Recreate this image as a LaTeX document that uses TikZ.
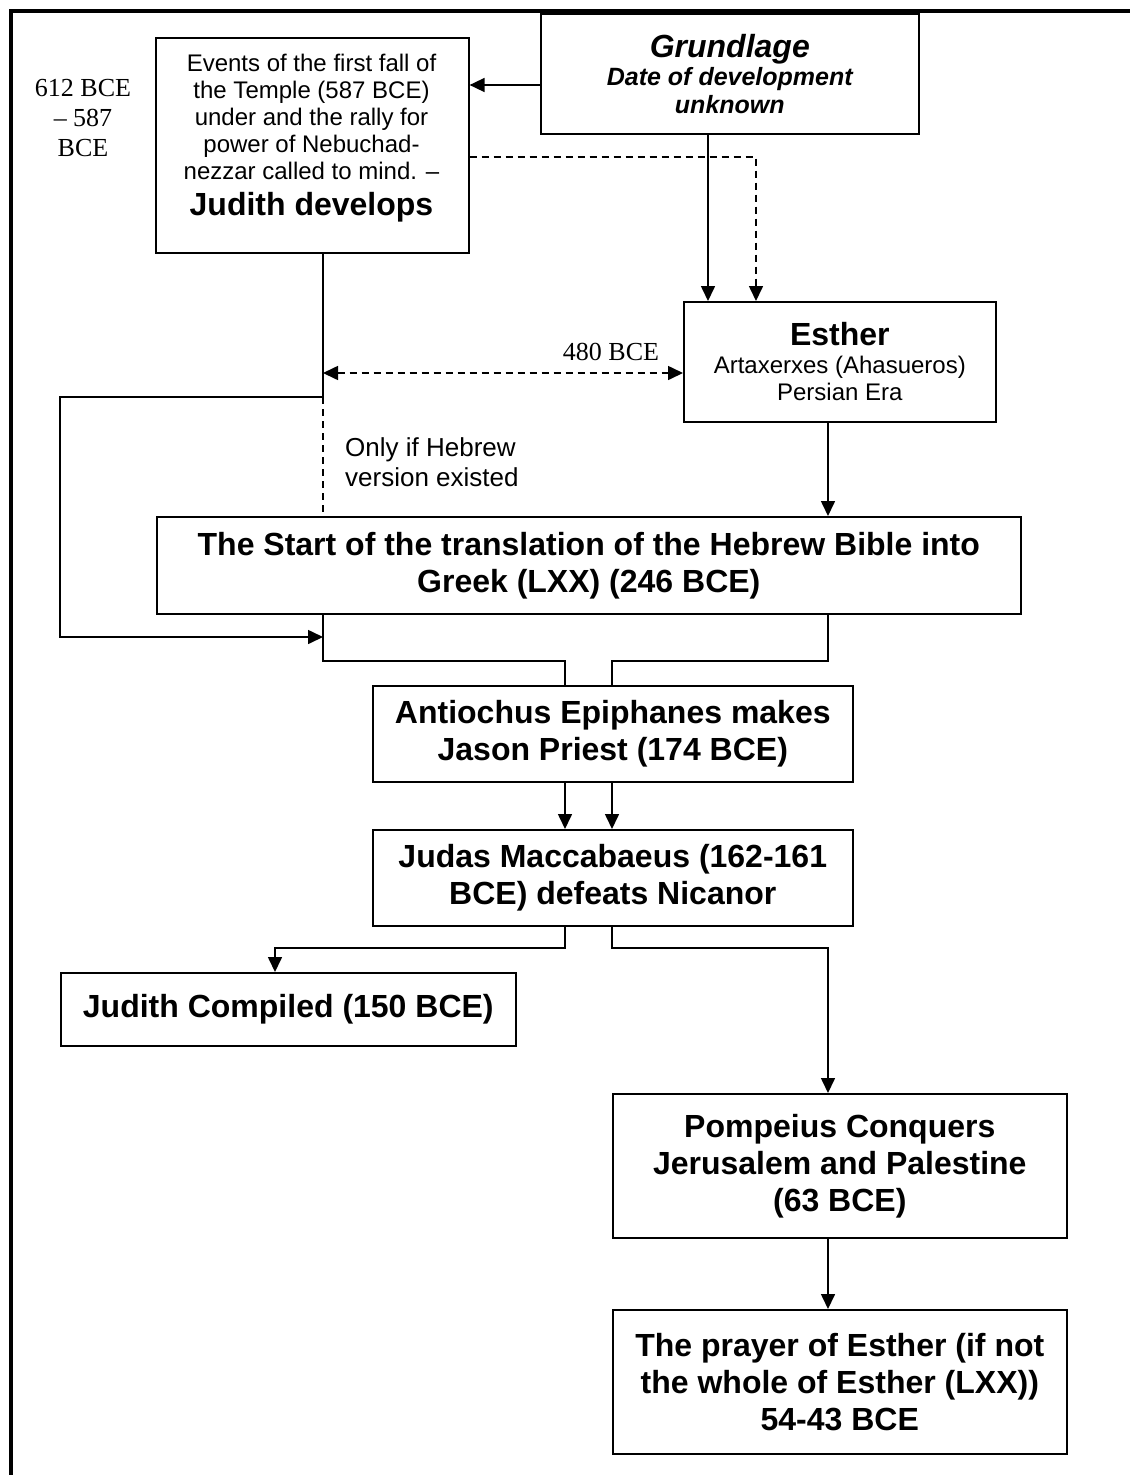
\documentclass[tikz,border=0pt]{standalone}
\usepackage{fontspec}
\setmainfont{Liberation Sans}
\newfontfamily\tnr{Liberation Serif}
\usetikzlibrary{arrows.meta,calc}
\begin{document}
\begin{tikzpicture}[x=1pt,y=-1pt,
  box/.style={draw,line width=1.6pt,inner sep=0pt,align=center,anchor=north west},
  big/.style={font=\fontsize{32}{37}\selectfont\bfseries},
  norm/.style={font=\fontsize{24}{27}\selectfont},
  serif/.style={font=\tnr\fontsize{26}{30}\selectfont,align=center,inner sep=0pt},
  conn/.style={line width=1.6pt},
  tip/.tip={Triangle[length=15pt,width=14pt]},
  arr/.style={conn,-tip},
  dsh/.style={dash pattern=on 7pt off 5pt},
  darr/.style={conn,dsh,tip-tip}]
\useasboundingbox (0,0) rectangle (1130,1475);
% frame
\draw[line width=4pt] (10.5,1475) -- (10.5,11) -- (1130,11);

% boxes
\node[box,minimum width=313pt,minimum height=215pt] (j1) at (155,37) {};
\node[norm,align=center,inner sep=0pt] (j1t) at (311.5,117) {Events of the first fall of\\the Temple (587 BCE)\\under and the rally for\\power of Nebuchad-\\nezzar called to mind. –};
\node[big,inner sep=0pt] (j1b) at (311.5,207) {Judith develops};

\node[box,minimum width=378pt,minimum height=120pt,font=\fontsize{25}{28}\selectfont\bfseries\itshape] (g) at (540,13)
  {{\fontsize{32}{28}\selectfont Grundlage}\\Date of development\\unknown};

\node[box,minimum width=312pt,minimum height=120pt,norm] (e) at (683,301)
  {{\fontsize{32}{27}\selectfont\bfseries Esther}\\[1pt]Artaxerxes (Ahasueros)\\Persian Era};

\node[box,minimum width=864pt,minimum height=97pt,big] (lxx) at (156,516)
  {The Start of the translation of the Hebrew Bible into\\Greek (LXX) (246 BCE)};

\node[box,minimum width=480pt,minimum height=96pt,big] (ant) at (372,685)
  {Antiochus Epiphanes makes\\Jason Priest (174 BCE)};

\node[box,minimum width=480pt,minimum height=96pt,big] (jud) at (372,829)
  {Judas Maccabaeus (162-161\\BCE) defeats Nicanor};

\node[box,minimum width=455pt,minimum height=73pt,big] (jc) at (60,972)
  {Judith Compiled (150 BCE)};

\node[box,minimum width=454pt,minimum height=144pt,big] (pom) at (612,1093)
  {Pompeius Conquers\\Jerusalem and Palestine\\(63 BCE)};

\node[box,minimum width=454pt,minimum height=144pt,big] (pr) at (612,1309)
  {The prayer of Esther (if not\\the whole of Esther (LXX))\\54-43 BCE};

% free labels
\node[serif] (dates) at (83,118) {612 BCE\\– 587\\BCE};
\node[serif] (d480) at (611,352) {480 BCE};
\node[font=\fontsize{26}{30}\selectfont,align=left,inner sep=0pt,anchor=west] (only) at (345,462)
  {Only if Hebrew\\version existed};

% helper coordinates
\coordinate (xa) at (708,0);
\coordinate (xb) at (756,0);
\coordinate (xc) at (323,0);
\coordinate (xd) at (828,0);
\coordinate (xe) at (565,0);
\coordinate (xf) at (612,0);
\coordinate (xg) at (275,0);
\coordinate (xl) at (60,0);
\coordinate (ya) at (0,85);
\coordinate (yb) at (0,157);
\coordinate (yc) at (0,373);
\coordinate (yd) at (0,397);
\coordinate (ye) at (0,637);
\coordinate (yf) at (0,661);
\coordinate (yg) at (0,948);

% connectors
\draw[arr] (g.west |- ya) -- (j1.east |- ya);
\draw[arr] (g.south -| xa) -- (e.north -| xa);
\draw[arr,dsh] (j1.east |- yb) -| (e.north -| xb);
\draw[arr] (j1.south -| xc) -- (xc |- yd) -- (xl |- yd) -- (xl |- ye) -- (xc |- ye);
\draw[conn,dsh] (xc |- yd) -- (lxx.north -| xc);
\draw[darr] (xc |- yc) -- (e.west |- yc);
\draw[arr] (e.south -| xd) -- (lxx.north -| xd);
\draw[conn] (lxx.south -| xc) -- (xc |- yf) -- (xe |- yf) -- (ant.north -| xe);
\draw[conn] (lxx.south -| xd) -- (xd |- yf) -- (xf |- yf) -- (ant.north -| xf);
\draw[arr] (ant.south -| xe) -- (jud.north -| xe);
\draw[arr] (ant.south -| xf) -- (jud.north -| xf);
\draw[arr] (jud.south -| xe) -- (xe |- yg) -- (xg |- yg) -- (jc.north -| xg);
\draw[arr] (jud.south -| xf) -- (xf |- yg) -- (xd |- yg) -- (pom.north -| xd);
\draw[arr] (pom.south -| xd) -- (pr.north -| xd);
\end{tikzpicture}
\end{document}
